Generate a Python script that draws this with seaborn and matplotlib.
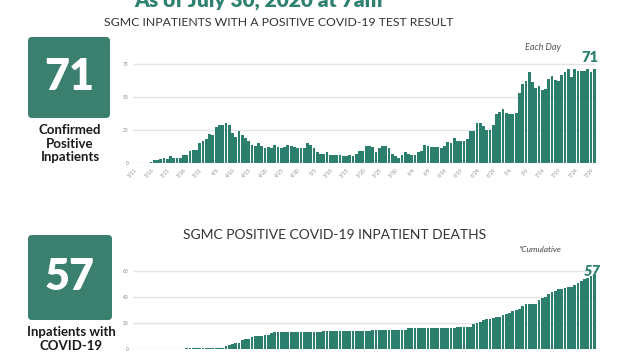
# %%
import numpy as np
import pandas as pd
import matplotlib
matplotlib.use("Agg")
import matplotlib.pyplot as plt
import seaborn as sns
from matplotlib.patches import FancyBboxPatch
from matplotlib.transforms import IdentityTransform

# %% data (read off the infographic, 3/11 - 7/30)
days = pd.date_range("2020-03-11", "2020-07-30", freq="D")
day_labels = [f"{d.month}/{d.day}" for d in days]

inpatients = [
    0, 0, 0, 0, 0, 1, 2, 2, 3, 4,
    3, 5, 4, 4, 4, 6, 6, 9, 10, 10,
    15, 17, 18, 22, 21, 27, 29, 29, 30, 29,
    23, 20, 24, 21, 19, 17, 14, 13, 15, 13,
    11, 12, 11, 14, 12, 11, 12, 14, 13, 12,
    11, 11, 11, 15, 14, 11, 8, 7, 7, 8,
    6, 6, 6, 6, 5, 5, 6, 5, 7, 9,
    9, 13, 13, 12, 8, 11, 13, 13, 11, 7,
    5, 4, 6, 8, 7, 6, 6, 8, 9, 14,
    13, 12, 12, 12, 11, 13, 16, 15, 19, 17,
    17, 17, 18, 24, 24, 30, 30, 28, 25, 25,
    29, 37, 39, 41, 38, 37, 37, 38, 53, 60,
    62, 69, 61, 57, 58, 55, 56, 64, 66, 63,
    62, 67, 69, 71, 65, 71, 70, 70, 70, 71,
    69, 71,
]

deaths = (
    [0] * 16 + [1] * 12
    + [2, 3, 4, 5, 5, 7, 8, 8, 9, 10, 10, 10, 11, 11, 12]
    + [13] * 15 + [14] * 15 + [15] * 11 + [16] * 15 + [17] * 5
    + [19, 20, 21, 22, 23, 23, 24, 25, 25, 26, 27, 28, 29, 30, 31, 33,
       35, 35, 35, 35, 38, 39, 40, 42, 44, 45, 46, 46, 47, 48, 48, 49,
       51, 52, 54, 55, 56, 57]
)

tick_labels = ['3/11', '3/16', '3/21', '3/26', '3/31', '4/5', '4/10', '4/15',
               '4/20', '4/25', '4/30', '5/5', '5/10', '5/15', '5/20', '5/25',
               '5/30', '6/4', '6/9', '6/14', '6/19', '6/24', '6/29', '7/4',
               '7/9', '7/14', '7/19', '7/24', '7/29']

# %% style
sns.set_style("white")
plt.rcParams['font.family'] = ['Lato', 'DejaVu Sans']

W, H = 622, 352
bar_teal = '#2c7f6d'
box_teal = '#3b7f6f'
dark = '#333333'

def fx(x):
    return x / W

def fy(y):
    return 1 - y / H

fig = plt.figure(figsize=(W / 100, H / 100), dpi=100)

# %% bar charts
ax1 = fig.add_axes([fx(133), fy(163), 463 / W, 105.6 / H])
ax2 = fig.add_axes([fx(133), fy(349), 463 / W, 84.5 / H])

df1 = pd.DataFrame({'day': day_labels, 'value': inpatients})
df2 = pd.DataFrame({'day': day_labels, 'value': deaths})
sns.barplot(data=df1, x='day', y='value', color=bar_teal, saturation=1, width=0.85, linewidth=0, ax=ax1)
sns.barplot(data=df2, x='day', y='value', color=bar_teal, saturation=1, width=0.85, linewidth=0, ax=ax2)

for ax, yt, ytop in [(ax1, [0, 25, 50, 75], 80), (ax2, [0, 20, 40, 60], 65)]:
    sns.despine(ax=ax, left=True, bottom=True)
    ax.set_xlim(-0.5, len(day_labels) - 0.5)
    ax.set_ylim(0, ytop)
    ax.set_yticks(yt)
    ax.set_xlabel('')
    ax.set_ylabel('')
    ax.grid(axis='y', color='#e4e4e4', lw=1)
    ax.set_axisbelow(True)
    ax.tick_params(length=0, labelsize=3.5, colors='#888888', pad=3)
    ax.set_xticks(range(0, len(day_labels), 5))
    ax.patch.set_alpha(0)

ax1.set_xticklabels(tick_labels, rotation=45, ha='right', rotation_mode='anchor')
# the date labels of the lower chart fall below the crop of the infographic
ax2.set_xticklabels([])

# %% boxes with headline numbers
for (x0, y0, w, h), num, lines in [((28, 37, 82, 81), '71', 'Confirmed\nPositive\nInpatients'),
                                    ((28, 235, 84, 85), '57', 'Inpatients with\nCOVID-19')]:
    fig.add_artist(FancyBboxPatch((x0, H - y0 - h), w, h, boxstyle='round,pad=0,rounding_size=4',
                                  transform=IdentityTransform(), facecolor=box_teal, edgecolor='none'))
    fig.text(fx(x0 + w / 2), fy(y0 + h / 2), num, color='white', fontsize=31, fontweight='heavy',
             ha='center', va='center')
    fig.text(fx(x0 + w / 2 + 1), fy(y0 + h + 6), lines, color='#1a1a1a', fontsize=9.5, fontweight='bold',
             ha='center', va='top', linespacing=1.15)

# %% titles and labels
fig.text(fx(258), fy(6), 'As of July 30, 2020 at 7am', color='#2e8070', fontsize=15,
         fontweight='heavy', ha='center', va='baseline')
fig.text(fx(279), fy(22.5), 'SGMC INPATIENTS WITH A POSITIVE COVID-19 TEST RESULT', color=dark,
         fontsize=8.8, ha='center', va='center')
fig.text(fx(335), fy(235), 'SGMC POSITIVE COVID-19 INPATIENT DEATHS', color=dark,
         fontsize=10, ha='center', va='center')

fig.text(fx(543), fy(47), 'Each Day', color='#555555', fontsize=6.5, style='italic', ha='center', va='center')
fig.text(fx(590), fy(57), '71', color='#2e8070', fontsize=10.5, fontweight='heavy', ha='center', va='center')
fig.text(fx(540), fy(249), '*Cumulative', color='#444444', fontsize=6, style='italic', ha='center', va='center')
fig.text(fx(592), fy(272), '57', color='#2e8070', fontsize=10.5, fontweight='heavy', style='italic',
         ha='center', va='center')

fig.savefig('out.png', dpi=100)
